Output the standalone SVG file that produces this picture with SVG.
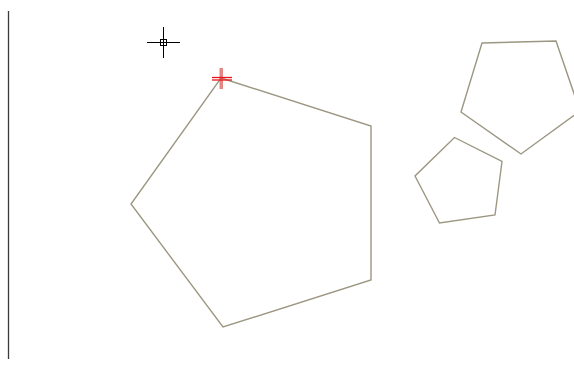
<svg xmlns="http://www.w3.org/2000/svg" width="574" height="371" viewBox="0 0 574 371">
<style>
.poly{fill:none;stroke:#9c9782;stroke-width:1.4;stroke-linejoin:miter}
.cross{stroke:#000;stroke-width:1;fill:none}
.red{stroke:#e8161a;stroke-width:1.3}
</style>
<rect width="574" height="371" fill="#fff"/>
<line x1="8.5" y1="11" x2="8.5" y2="359" stroke="#3a3a3a" stroke-width="1.3"/>
<g id="pentagon-large">
<polygon class="poly" points="221,78 371,126 371,280 223,327 131,204"/>
</g>
<g id="pentagon-upper">
<polygon class="poly" points="482,43 556,41 580,111 521,154 461,112"/>
</g>
<g id="pentagon-small">
<polygon class="poly" points="454.5,137.5 502,161.5 495,215 439.5,223 415,176"/>
</g>
<g id="cursor">
<line class="cross" x1="147" y1="42.5" x2="180" y2="42.5"/>
<line class="cross" x1="163.5" y1="27" x2="163.5" y2="58"/>
<rect class="cross" x="160.5" y="39.5" width="6" height="6" fill="#fff"/>
</g>
<g id="marker">
<rect x="219.5" y="68" width="3.5" height="21" fill="#d9534f" opacity="0.7"/>
<line class="red" x1="212" y1="77.5" x2="232" y2="77.5"/>
<line class="red" x1="212" y1="80" x2="232" y2="80"/>
</g>
</svg>
